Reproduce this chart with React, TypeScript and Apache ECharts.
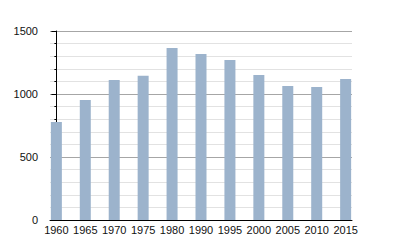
import React, { useEffect, useRef } from "react";
import * as echarts from "echarts";

const years = ["1960", "1965", "1970", "1975", "1980", "1990", "1995", "2000", "2005", "2010", "2015"];
const population = [778, 952, 1111, 1145, 1365, 1317, 1270, 1151, 1063, 1055, 1119];
const yTicks = [0, 500, 1000, 1500];

export default function App() {
  const ref = useRef<HTMLDivElement>(null);
  useEffect(() => {
    if (!ref.current) return;
    const chart = echarts.init(ref.current, undefined, { renderer: "svg" });
    chart.setOption({
      animation: false,
      grid: { left: 50, top: 31, right: 48, bottom: 30, containLabel: false },
      xAxis: {
        type: "value",
        min: -0.22,
        max: 10.22,
        axisLine: { show: true, lineStyle: { color: "#000", width: 1 } },
        axisTick: { show: false },
        splitLine: { show: false },
        axisLabel: {
          customValues: years.map((_, i) => i),
          formatter: (v: number) => years[Math.round(v)] ?? "",
          color: "#111",
          fontFamily: "Liberation Sans",
          fontSize: 11,
          margin: 4,
        },
      },
      yAxis: {
        type: "value",
        min: 0,
        max: 1500,
        interval: 500,
        axisLine: { show: true, lineStyle: { color: "#000", width: 1 } },
        axisTick: { show: true, length: 5, lineStyle: { color: "#000" } },
        minorTick: { show: true, splitNumber: 5, length: 2, lineStyle: { color: "#000" } },
        splitLine: { show: true, lineStyle: { color: "#a6a6a6", width: 1 } },
        minorSplitLine: { show: true, lineStyle: { color: "#e2e2e2", width: 1 } },
        axisLabel: {
          customValues: yTicks,
          formatter: (v: number) => String(v),
          color: "#111",
          fontFamily: "Liberation Sans",
          fontSize: 11,
          margin: 12,
        },
      },
      series: [
        {
          type: "bar",
          data: population.map((v, i) => [i, v]),
          barWidth: 11,
          itemStyle: { color: "#9cb3cc" },
        },
      ],
    });
    return () => chart.dispose();
  }, []);
  return <div ref={ref} style={{ width: 400, height: 250, position: "absolute", left: 0, top: 0 }} />;
}
